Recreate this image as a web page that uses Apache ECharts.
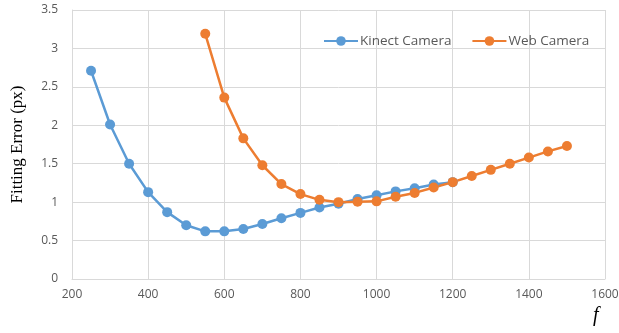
<!DOCTYPE html>
<html><head><meta charset="utf-8">
<script src="https://cdn.jsdelivr.net/npm/echarts@6/dist/echarts.min.js"></script>
<style>html,body{margin:0;padding:0;background:#fff}#c{width:619px;height:333px}</style>
</head><body><div id="c"></div>
<script>
const kinectX = [250,300,350,400,450,500,550,600,650,700,750,800,850,900,950,1000,1050,1100,1150,1200];
const kinectY = [2.71,2.01,1.50,1.13,0.87,0.70,0.62,0.62,0.65,0.715,0.79,0.86,0.93,0.98,1.04,1.09,1.14,1.18,1.23,1.26];
const webX = [550,600,650,700,750,800,850,900,950,1000,1050,1100,1150,1200,1250,1300,1350,1400,1450,1500];
const webY = [3.19,2.36,1.83,1.48,1.235,1.105,1.03,1.0,1.005,1.01,1.07,1.12,1.19,1.26,1.34,1.42,1.50,1.58,1.66,1.73];
const seriesNames = ['Kinect Camera','Web Camera'];
const colors = ['#5B9BD5','#ED7D31'];

const chart = echarts.init(document.getElementById('c'), null, {renderer:'canvas'});
const font = 'Open Sans';
function mk(name, xs, ys, color){
  return {name:name, type:'line', data: xs.map((x,i)=>[x,ys[i]]),
    symbol:'circle', symbolSize:10, itemStyle:{color:color},
    lineStyle:{color:color,width:2.5}, animation:false};
}
chart.setOption({
  animation:false,
  grid:{left:72,right:14,top:10,bottom:54,containLabel:false,outerBoundsMode:'none'},
  legend:{top:29,left:318,itemWidth:34,itemHeight:12,itemGap:20,
    textStyle:{fontFamily:font,fontSize:13.5,color:'#595959',padding:[0,0,0,-3]},
    data:seriesNames},
  xAxis:{type:'value',min:200,max:1600,interval:200,
    name:'f',nameLocation:'end',nameGap:0,
    nameTextStyle:{fontFamily:'Liberation Serif',fontStyle:'italic',fontSize:20,color:'#000',padding:[27,0,0,-12],verticalAlign:'top'},
    axisLine:{show:true,lineStyle:{color:'#d9d9d9',width:1}},
    axisTick:{show:false},
    splitLine:{show:true,lineStyle:{color:'#d9d9d9',width:1}},
    axisLabel:{fontFamily:font,fontSize:12,color:'#595959',margin:10,formatter:v=>String(v)}},
  yAxis:{type:'value',min:0,max:3.5,interval:0.5,
    name:'Fitting Error (px)',nameLocation:'middle',nameGap:46,nameRotate:90,
    nameTextStyle:{fontFamily:'Liberation Serif',fontSize:17,color:'#000'},
    axisLine:{show:true,lineStyle:{color:'#d9d9d9',width:1}},
    axisTick:{show:false},
    splitLine:{show:true,lineStyle:{color:'#d9d9d9',width:1}},
    axisLabel:{fontFamily:font,fontSize:12,color:'#595959',margin:14,formatter:v=>String(v)}},
  series:[mk(seriesNames[0],kinectX,kinectY,colors[0]), mk(seriesNames[1],webX,webY,colors[1])]
});
</script></body></html>
